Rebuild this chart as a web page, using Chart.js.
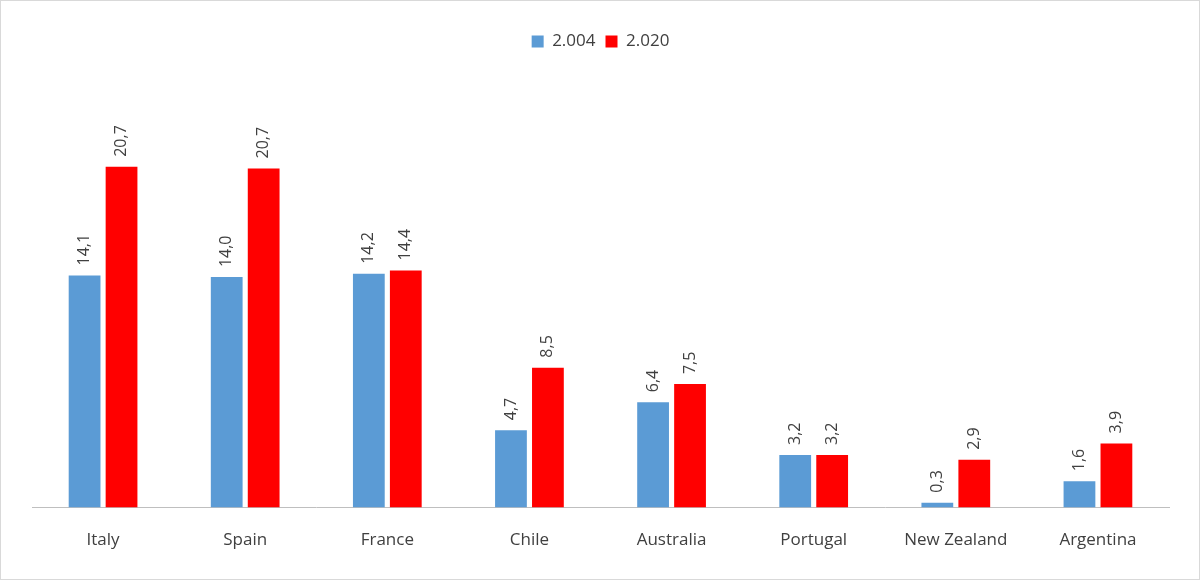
<!DOCTYPE html>
<html><head><meta charset="utf-8">
<script src="https://cdn.jsdelivr.net/npm/chart.js@4/dist/chart.umd.min.js"></script>
<style>html,body{margin:0;padding:0;background:#fff}#w{width:1198px;height:578px;border:1px solid #d9d9d9;position:relative}</style>
</head><body><div id="w"><canvas id="c"></canvas></div>
<script>
const categories=["Italy","Spain","France","Chile","Australia","Portugal","New Zealand","Argentina"];
const series2004=[14.1,14.0,14.2,4.7,6.4,3.2,0.3,1.6];
const series2020=[20.7,20.6,14.4,8.5,7.5,3.2,2.9,3.9];
const labels2004=["14,1","14,0","14,2","4,7","6,4","3,2","0,3","1,6"];
const labels2020=["20,7","20,7","14,4","8,5","7,5","3,2","2,9","3,9"];
const lblPlugin={id:'lbl',afterDatasetsDraw(ch){const c=ch.ctx;c.save();c.font='16px "Open Sans", sans-serif';c.fillStyle='#404040';c.textAlign='left';c.textBaseline='middle';
[labels2004,labels2020].forEach((L,di)=>{ch.getDatasetMeta(di).data.forEach((b,i)=>{c.save();c.translate(b.x,b.y-10);c.rotate(-Math.PI/2);c.fillText(L[i],0,0);c.restore();});});c.restore();}};
new Chart(document.getElementById('c'),{type:'bar',data:{labels:categories,datasets:[
{label:'2.004',data:series2004,backgroundColor:'#5B9BD5',categoryPercentage:0.52,barPercentage:0.86},
{label:'2.020',data:series2020,backgroundColor:'#FF0000',categoryPercentage:0.52,barPercentage:0.86}]},
options:{responsive:true,maintainAspectRatio:false,animation:false,
layout:{padding:{left:31,right:30,top:22,bottom:7}},
plugins:{legend:{position:'top',labels:{boxWidth:12,boxHeight:12,color:'#404040',font:{size:17,family:'"Open Sans", sans-serif'},padding:10},},tooltip:{enabled:false}},
scales:{y:{display:false,min:0,max:25},x:{grid:{display:false,drawTicks:false},border:{color:'#bfbfbf'},ticks:{color:'#404040',padding:22,font:{size:17,family:'"Open Sans", sans-serif'}}}}},
plugins:[lblPlugin,{id:'legPad',beforeInit(ch){const f=ch.legend.fit;ch.legend.fit=function(){f.bind(ch.legend)();this.height+=36;};}}]});
</script></body></html>
